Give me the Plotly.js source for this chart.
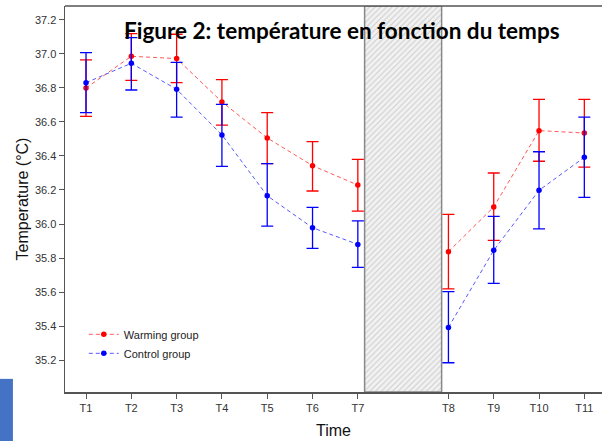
<!DOCTYPE html>
<html><head><meta charset="utf-8">
<script src="https://cdn.plot.ly/plotly-3.0.1.min.js"></script>
<style>html,body{margin:0;padding:0;background:#fff;}#chart{width:602px;height:441px;}</style>
</head><body><div id="chart"></div>
<script>
const timeLabels = ['T1','T2','T3','T4','T5','T6','T7','T8','T9','T10','T11'];
const timePos = [1,2,3,4,5,6,7,9,10,11,12];
const warmMean = [36.80,36.986,36.973,36.718,36.506,36.343,36.229,35.837,36.10,36.549,36.535];
const warmUpper = [36.965,37.12,37.116,36.849,36.655,36.484,36.38,36.057,36.30,36.733,36.733];
const warmLower = [36.633,36.845,36.831,36.581,36.355,36.194,36.076,35.618,35.904,36.369,36.335];
const ctrlMean = [36.831,36.945,36.792,36.524,36.166,35.978,35.88,35.392,35.845,36.198,36.392];
const ctrlUpper = [37.008,37.096,36.951,36.704,36.355,36.098,36.018,35.602,36.045,36.425,36.628];
const ctrlLower = [36.655,36.788,36.628,36.339,35.988,35.857,35.745,35.184,35.651,35.971,36.157];
const splitIndex = 7; // T1..T7 before the break, T8..T11 after
const gapStart = 7.15, gapEnd = 8.85;
const yMin = 35.012, yMax = 37.282;

function segment(name, mean, up, lo, color, lineColor, a, b, showLegend) {
  const m = mean.slice(a, b);
  return {
    x: timePos.slice(a, b), y: m, name: name, legendgroup: name, showlegend: showLegend,
    type: 'scatter', mode: 'lines+markers',
    line: {color: lineColor, dash: '4px,3px', width: 1},
    marker: {color: color, size: 5.5},
    error_y: {type: 'data', symmetric: false,
      array: up.slice(a, b).map((v,i)=>v-m[i]), arrayminus: m.map((v,i)=>v-lo.slice(a, b)[i]),
      color: color, thickness: 1.3, width: 6}
  };
}
function series(name, mean, up, lo, color, lineColor) {
  return [
    segment(name, mean, up, lo, color, lineColor, 0, splitIndex, true),
    segment(name, mean, up, lo, color, lineColor, splitIndex, mean.length, false)
  ];
}
const gapTrace = {
  x: [gapStart, gapEnd, gapEnd, gapStart, gapStart],
  y: [yMin, yMin, yMax, yMax, yMin],
  type: 'scatter', mode: 'lines', fill: 'toself', showlegend: false, hoverinfo: 'skip',
  fillcolor: '#eeeeee',
  fillpattern: {shape: '/', fgcolor: '#cccccc', bgcolor: '#f2f2f2', size: 4, solidity: 0.25},
  line: {color: '#888888', width: 1.5}
};
const data = [gapTrace]
  .concat(series('Warming group', warmMean, warmUpper, warmLower, '#ff0000', 'rgba(255,70,70,0.9)'))
  .concat(series('Control group', ctrlMean, ctrlUpper, ctrlLower, '#0000ff', 'rgba(70,70,255,0.9)'));
const layout = {
  width: 602, height: 441,
  margin: {l: 65, r: 0, t: 6, b: 49},
  paper_bgcolor: '#fff', plot_bgcolor: '#fff',
  font: {family: 'Liberation Sans, Arial, sans-serif', color: '#333'},
  showlegend: true,
  legend: {x: 0.035, y: 0.187, xanchor: 'left', yanchor: 'top', bgcolor: 'rgba(0,0,0,0)',
    font: {size: 11, color: '#222'}, itemwidth: 30, tracegroupgap: 0},
  xaxis: {
    range: [0.536, 12.39], tickvals: timePos, ticktext: timeLabels,
    showgrid: false, zeroline: false, showline: true, linecolor: '#555', linewidth: 1.5,
    ticks: 'outside', ticklen: 5, tickcolor: '#555',
    tickfont: {size: 11, color: '#333'},
    title: {text: 'Time', font: {size: 16, color: '#111'}, standoff: 12}
  },
  yaxis: {
    range: [yMin, yMax], tickvals: [35.2,35.4,35.6,35.8,36.0,36.2,36.4,36.6,36.8,37.0,37.2],
    tickformat: '.1f',
    showgrid: false, zeroline: false, showline: true, linecolor: '#555', linewidth: 1.5,
    ticks: 'outside', ticklen: 5, tickcolor: '#555',
    tickfont: {size: 11, color: '#333'},
    title: {text: 'Temperature (°C)', font: {size: 16, color: '#111'}, standoff: 2}
  },
  shapes: [
    {type: 'line', xref: 'paper', yref: 'paper', x0: 0, x1: 1, y0: 1, y1: 1,
     line: {color: '#555', width: 1.5}},
    {type: 'rect', xref: 'paper', yref: 'paper', x0: -0.121, x1: -0.097, y0: -0.127, y1: 0.034,
     fillcolor: '#4472C4', line: {width: 0}, layer: 'above'}
  ],
  annotations: [
    {text: '<b>Figure 2: température en fonction du temps</b>', xref: 'paper', yref: 'paper',
     x: 0.515, y: 0.936, xanchor: 'center', yanchor: 'middle', showarrow: false,
     font: {family: 'Lato, Open Sans, sans-serif', size: 22.5, color: '#000'}}
  ]
};
Plotly.newPlot('chart', data, layout, {staticPlot: true, displayModeBar: false});
</script></body></html>
